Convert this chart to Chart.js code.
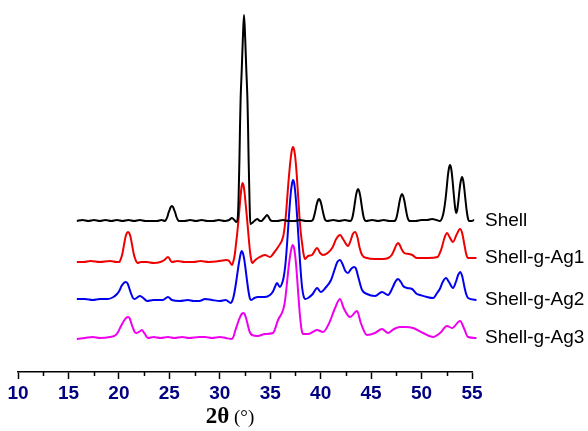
<!DOCTYPE html>
<html>
<head>
<meta charset="utf-8">
<script src="https://cdn.jsdelivr.net/npm/chart.js@4.4.1/dist/chart.umd.min.js"></script>
<style>
  html, body { margin: 0; padding: 0; background: #fff; }
  #wrap { width: 588px; height: 431px; position: relative; }
</style>
</head>
<body>
<div id="wrap"><canvas id="c" width="588" height="431"></canvas></div>
<script>
// 2theta (deg), intensity above each pattern's baseline (a.u.)
const shell = [
  [14.8,0],[15.3,1],[15.8,0],[16.3,1],[16.8,0],[17.3,1],[17.8,0],[18.3,1],[18.8,0],[19.3,1],
  [19.8,0],[20.3,1],[20.8,0],[21.3,0],[21.8,0],[22.2,1],[22.5,0],[22.6,1.5],[22.7,4],[22.8,8],
  [22.9,11],[23.0,14],[23.1,15],[23.2,14],[23.3,11],[23.4,8],[23.5,4],[23.6,1.5],[23.7,0],[24.2,0],
  [24.7,1],[25.2,0],[25.7,1],[26.2,0],[26.7,0],[27.2,1],[27.7,0],[28.1,1],[28.35,3],[28.55,1],
  [28.75,-1],[28.85,3],[28.92,21],[29.0,62],[29.05,95],[29.1,121],[29.2,151],[29.3,183],[29.4,206],
  [29.5,183],[29.6,151],[29.7,121],[29.75,95],[29.8,62],[29.88,21],[29.95,-3],[30.1,-2],[30.3,0],
  [30.55,2],[30.8,0],[30.95,0],[31.1,2],[31.25,4],[31.41,6],[31.55,4],[31.7,1],[31.85,0],[32.3,0],
  [32.8,1],[33.3,0],[33.8,0],[34.3,1],[34.8,0],[35.25,0],[35.35,0.4],[35.45,2.2],[35.55,6.2],
  [35.65,11.4],[35.75,16.7],[35.85,20.5],[35.95,22],[36.05,20.5],[36.15,16.7],[36.25,11.4],
  [36.35,6.2],[36.45,2.2],[36.55,0.4],[36.65,0],[37.2,1],[37.7,0],[38.2,1],[38.66,0],[38.76,0.6],
  [38.86,3.2],[38.96,9],[39.06,16.6],[39.16,24.3],[39.26,29.8],[39.36,32],[39.46,29.8],[39.56,24.3],
  [39.66,16.6],[39.76,9],[39.86,3.2],[39.96,0.6],[40.06,0],[40.6,1],[41.1,0],[41.6,1],[42.1,0],
  [42.5,0],[42.6,0.5],[42.7,2.7],[42.8,7.6],[42.9,14],[43.0,20.5],[43.1,25],[43.2,27],[43.3,25],
  [43.4,20.5],[43.5,14],[43.6,7.6],[43.7,2.7],[43.8,0.5],[43.9,0],[44.4,0],[44.9,1],[45.4,1],
  [45.82,2],[46.2,1],[46.5,0],[46.7,3],[46.85,10],[47.0,22],[47.1,33],[47.2,45],[47.3,53],[47.39,56],
  [47.5,52],[47.6,42],[47.7,29],[47.8,17],[47.92,8],[48.02,11],[48.12,20],[48.22,31],[48.33,40],
  [48.44,44],[48.55,40],[48.65,31],[48.75,20],[48.85,10],[48.95,3],[49.05,0],[49.3,0],[49.5,1],
  [49.7,0]
];
const shellAg1 = [
  [14.8,0],[15.4,0],[16.0,1],[16.8,0],[17.7,1],[18.3,0],[18.47,0],[18.57,1],[18.67,4],[18.77,8],
  [18.87,14],[18.97,20.5],[19.07,26],[19.17,29],[19.27,30],[19.37,29],[19.47,26],[19.57,20.5],
  [19.67,14],[19.77,8],[19.87,4],[19.97,1],[20.1,-1],[20.4,0],[20.9,0],[21.5,-1],[22.1,0],[22.45,2],
  [22.76,5],[23.1,0],[23.6,1],[24.2,0],[25.0,0],[25.6,1],[26.3,0],[27.3,1],[27.83,2],[28.1,1],
  [28.35,-3],[28.5,2],[28.6,8],[28.7,18],[28.8,28],[28.9,40],[29.0,53],[29.1,66],[29.2,76],
  [29.27,79],[29.35,77],[29.45,69],[29.55,57],[29.65,45],[29.75,32],[29.85,19],[29.95,8],[30.05,1],
  [30.12,-1],[30.3,1],[30.62,4],[31.23,7],[31.67,5],[32.0,9],[32.37,15],[32.81,25],[32.95,35],
  [33.08,50],[33.18,65],[33.28,80],[33.38,93],[33.48,104],[33.58,112],[33.68,115],[33.78,112],
  [33.88,104],[33.98,91],[34.08,74],[34.18,56],[34.28,39],[34.38,27],[34.47,19],[34.6,8],[34.73,3],
  [35.0,6],[35.34,7],[35.78,14],[36.05,9],[36.3,7],[36.7,9],[37.1,14],[37.45,23],[37.78,27],[38.1,22],
  [38.48,16],[38.7,21],[38.9,28],[39.1,30],[39.3,25],[39.5,14],[39.71,7],[40.14,4],[40.8,3],[41.5,3],
  [42.0,4],[42.3,7],[42.55,13],[42.7,17],[42.85,19],[43.0,17],[43.2,12],[43.4,9],[43.8,8],[44.1,7],
  [44.5,4],[45.5,4],[46.3,5],[46.5,9],[46.69,15],[46.9,24],[47.13,29],[47.35,25],[47.65,20],
  [47.95,27],[48.27,33],[48.45,29],[48.65,17],[48.8,8],[48.96,4],[49.7,4]
];
const shellAg2 = [
  [14.8,1],[15.5,1],[16.2,0],[16.8,1],[17.5,1],[18.0,3],[18.31,6],[18.5,9],[18.7,14],[18.9,17],
  [19.09,18],[19.25,16],[19.4,11],[19.55,6],[19.7,2],[19.85,1],[20.0,2],[20.32,4],[20.6,2],
  [20.93,-1],[21.5,0],[22.3,0],[22.76,3],[23.1,0],[23.8,-1],[24.5,0],[25.0,-1],[25.5,-1],[26.0,1],
  [26.6,0],[27.3,-1],[27.8,0],[28.26,-3],[28.4,0],[28.5,4],[28.6,10],[28.7,17],[28.8,25],[28.9,33],
  [29.0,40],[29.1,46],[29.2,49],[29.3,47],[29.4,42],[29.5,34],[29.6,25],[29.7,16],[29.8,8],[29.9,2],
  [30.0,0],[30.3,2],[30.62,3],[31.23,3],[31.67,5],[31.9,8],[32.1,13],[32.28,17],[32.45,14],
  [32.54,13],[32.7,16],[32.85,22],[33.0,34],[33.1,47],[33.2,63],[33.3,80],[33.4,96],[33.5,109],
  [33.6,117],[33.68,120],[33.78,117],[33.88,107],[33.98,93],[34.08,76],[34.18,58],[34.28,40],
  [34.38,24],[34.48,12],[34.6,4],[34.75,1],[34.99,2],[35.4,6],[35.78,12],[36.1,8],[36.5,12],[37.0,20],
  [37.3,30],[37.55,38],[37.78,40],[38.0,36],[38.25,29],[38.48,27],[38.75,31],[39.0,33],[39.15,32],
  [39.4,22],[39.71,10],[40.14,6],[40.84,4],[41.45,8],[41.98,5],[42.4,13],[42.6,18],[42.85,21],
  [43.1,18],[43.3,14],[43.64,12],[44.07,11],[44.5,6],[44.77,5],[45.38,3],[45.91,2],[46.26,7],
  [46.5,11],[46.75,18],[47.04,22],[47.3,18],[47.65,12],[47.9,18],[48.1,25],[48.27,28],[48.45,24],
  [48.65,13],[48.8,6],[48.96,2],[49.7,0]
];
const shellAg3 = [
  [14.8,-1],[15.5,0],[16.2,1],[16.8,0],[17.7,1],[18.2,3],[18.4,6],[18.57,10],[18.75,14],[18.9,17],
  [19.1,20],[19.27,21],[19.4,20],[19.55,15],[19.7,10],[19.85,6],[19.97,5],[20.2,6],[20.35,7],
  [20.49,8],[20.62,6],[20.75,4],[20.9,1],[21.01,0],[21.5,1],[22.1,0],[22.76,1],[23.3,0],[24.0,1],
  [24.6,0],[25.5,1],[26.0,1],[26.6,0],[27.3,1],[27.8,0],[28.35,-1],[28.5,2],[28.65,8],[28.8,13],
  [28.95,18],[29.1,22],[29.2,24],[29.34,25],[29.45,24],[29.6,19],[29.75,12],[29.9,6],[30.1,3],
  [30.6,2],[31.23,4],[31.93,5],[32.37,18],[32.81,28],[32.95,35],[33.05,44],[33.15,55],[33.25,66],
  [33.35,76],[33.45,84],[33.55,90],[33.65,93],[33.75,91],[33.85,84],[33.95,73],[34.05,58],[34.15,42],
  [34.25,27],[34.35,15],[34.45,7],[34.55,4],[34.99,4],[35.4,6],[35.78,8],[36.3,6],[36.8,14],
  [37.35,30],[37.78,39],[38.1,30],[38.66,21],[39.27,27],[39.6,15],[40.14,3],[40.84,5],[41.45,9],
  [41.98,5],[42.5,9],[43.03,11],[43.5,11],[44.16,10],[45.03,5],[45.91,1],[46.52,5],[47.13,12],
  [47.57,10],[48.27,17],[48.6,10],[48.96,1],[49.7,0]
];

const seriesNames = ['Shell', 'Shell-g-Ag1', 'Shell-g-Ag2', 'Shell-g-Ag3'];
const seriesData = [shell, shellAg1, shellAg2, shellAg3];
const seriesOffsets = [151, 110, 72, 34];
const seriesColors = ['#000000', '#ee0000', '#0000ee', '#ee00ee'];

const xTicksMin = 10, xTicksMax = 55;
const minorTicks = [12.5, 17.5, 22.5, 27.5, 32.5, 37.5, 42.5, 47.5, 52.5];

const datasets = seriesData.map((d, i) => ({
  label: seriesNames[i],
  data: d.map(p => ({ x: p[0], y: p[1] + seriesOffsets[i] })),
  xAxisID: 'xd',
  borderColor: seriesColors[i],
  borderWidth: 2,
  pointRadius: 0,
  fill: false,
  cubicInterpolationMode: 'monotone',
  clip: false
}));

/* series names at the right end of each pattern, minor ticks, axis title */
const decorations = {
  id: 'decorations',
  afterDraw(chart) {
    const ctx = chart.ctx;
    const area = chart.chartArea;
    const xs = chart.scales.x;
    const ys = chart.scales.y;
    ctx.save();
    // minor ticks
    ctx.strokeStyle = '#000';
    ctx.lineWidth = 1.5;
    minorTicks.forEach(v => {
      const px = Math.round(xs.getPixelForValue(v)) + 0.5;
      ctx.beginPath();
      ctx.moveTo(px, area.bottom);
      ctx.lineTo(px, area.bottom + 4);
      ctx.stroke();
    });
    // series labels
    ctx.fillStyle = '#000';
    ctx.font = '19px "Liberation Sans", Arial, sans-serif';
    ctx.textBaseline = 'middle';
    ctx.textAlign = 'left';
    chart.data.datasets.forEach(ds => {
      const last = ds.data[ds.data.length - 1];
      ctx.fillText(ds.label, area.right + 13, ys.getPixelForValue(last.y));
    });
    // axis title: bold "2θ" + regular "(°)"
    const t1 = '2\u03b8', t2 = ' (\u00b0)';
    const f1 = 'bold 23px "Liberation Serif", "Times New Roman", serif';
    const f2 = '19px "Liberation Serif", "Times New Roman", serif';
    ctx.font = f1;
    const w1 = ctx.measureText(t1).width;
    ctx.font = f2;
    const w2 = ctx.measureText(t2).width;
    const cx = (area.left + area.right) / 2 - 15;
    const base = area.bottom + 51;
    ctx.textBaseline = 'alphabetic';
    ctx.font = f1;
    ctx.fillText(t1, cx - (w1 + w2) / 2, base);
    ctx.font = f2;
    ctx.fillText(t2, cx - (w1 + w2) / 2 + w1, base);
    ctx.restore();
  }
};

new Chart(document.getElementById('c').getContext('2d'), {
  type: 'line',
  data: { datasets: datasets },
  plugins: [decorations],
  options: {
    responsive: false,
    animation: false,
    layout: { padding: { left: 18, right: 116, top: 10, bottom: 0 } },
    plugins: {
      legend: { display: false },
      tooltip: { enabled: false }
    },
    scales: {
      x: {
        type: 'linear',
        position: 'bottom',
        min: xTicksMin,
        max: xTicksMax,
        ticks: {
          stepSize: 5,
          autoSkip: false,
          maxRotation: 0,
          padding: 3,
          color: '#000080',
          font: { family: '"Liberation Sans", Arial, sans-serif', size: 19, weight: 'bold' }
        },
        grid: { drawOnChartArea: false, drawTicks: true, tickLength: 7, tickWidth: 1.5, tickColor: '#000' },
        border: { display: true, color: '#000', width: 1.5 },
        afterFit: s => { s.height = 59; }
      },
      xd: { type: 'linear', display: false, min: 9.66, max: 49.31 },
      y: { display: false, min: 0, max: 362 }
    }
  }
});
</script>
</body>
</html>
